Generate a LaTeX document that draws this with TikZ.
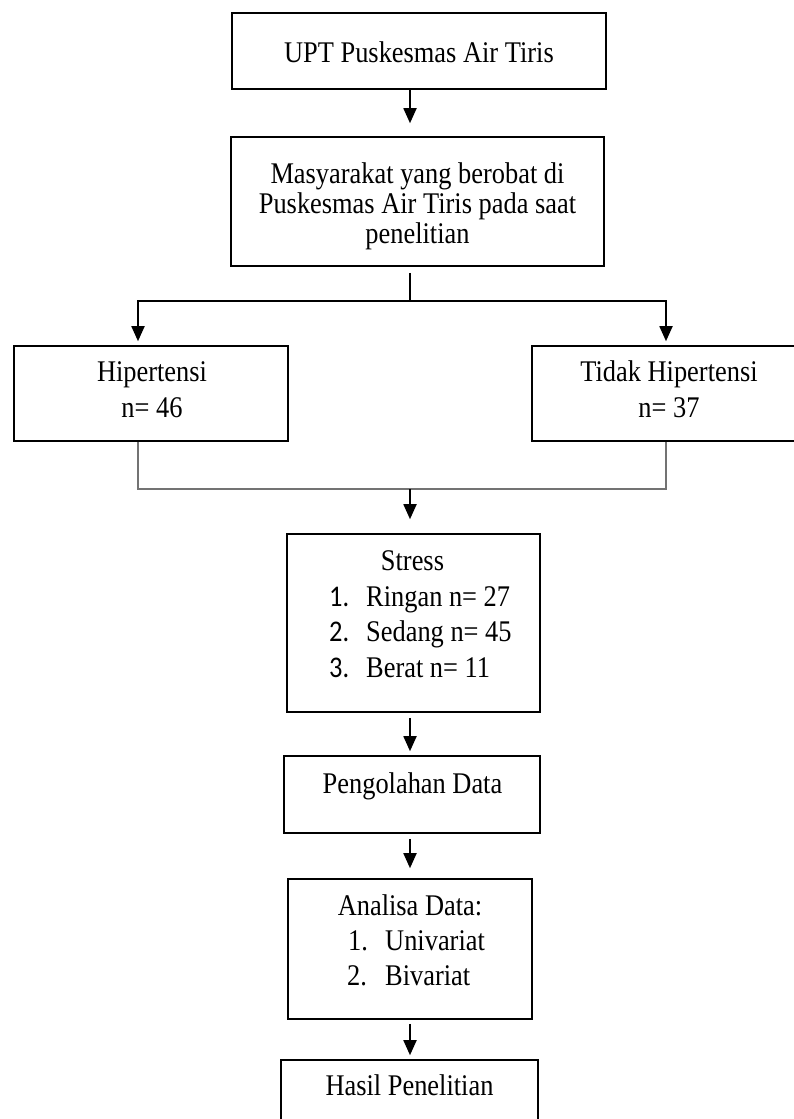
\documentclass[tikz,border=0pt]{standalone}
\usepackage{fontspec}
\setmainfont{Liberation Serif}[FakeStretch=0.88]
\newfontfamily\numfont{Carlito}[FakeStretch=0.88]
\usetikzlibrary{arrows.meta}
\begin{document}
\begin{tikzpicture}[x=1pt,y=-1pt,
  every node/.style={font=\fontsize{30}{36}\selectfont},
  box/.style={draw, line width=1.6pt, inner sep=0pt, rectangle},
  txt/.style={inner sep=0pt, anchor=base},
  ltxt/.style={inner sep=0pt, anchor=base west},
  conn/.style={line width=1.8pt},
  arr/.style={conn, -{Triangle[length=15pt,width=13pt]}},
  grayline/.style={line width=1.2pt, draw=black!55}]
\path[fill=white] (0,0) rectangle (793,1119);
\useasboundingbox (0,0) rectangle (793,1119);

% boxes
\node[box, line width=2.6pt, minimum width=374pt, minimum height=76pt] (upt) at (419,51) {};
\node[box, minimum width=373pt, minimum height=129pt] (mas) at (417.5,201.5) {};
\node[box, minimum width=274pt, minimum height=95pt] (hyp) at (151,393.5) {};
\node[box, minimum width=274pt, minimum height=95pt] (nhyp) at (669,393.5) {};
\node[box, minimum width=253pt, minimum height=178pt] (str) at (413.5,623) {};
\node[box, minimum width=256pt, minimum height=77pt] (peng) at (412,794.5) {};
\node[box, minimum width=244pt, minimum height=140pt] (ana) at (410,949) {};
\node[box, minimum width=257pt, minimum height=100pt] (has) at (409.5,1110) {};

% texts
\node[txt] (tupt) at (419,62) {UPT Puskesmas Air Tiris};
\node[txt] (tmas1) at (417.5,183) {Masyarakat yang berobat di};
\node[txt] (tmas2) at (417.5,213) {Puskesmas Air Tiris pada saat};
\node[txt] (tmas3) at (417.5,243) {penelitian};
\node[txt] (thyp1) at (152,381) {Hipertensi};
\node[txt] (thyp2) at (152,417) {n= 46};
\node[txt] (tnhyp1) at (669,381) {Tidak Hipertensi};
\node[txt] (tnhyp2) at (669,417) {n= 37};
\node[txt] (tstr) at (412.5,570) {Stress};
\node[ltxt] (n1) at (329,606) {\numfont 1.};
\node[ltxt] (s1) at (366,606) {Ringan n= 27};
\node[ltxt] (n2) at (329,641) {\numfont 2.};
\node[ltxt] (s2) at (366,641) {Sedang n= 45};
\node[ltxt] (n3) at (329,677) {\numfont 3.};
\node[ltxt] (s3) at (366,677) {Berat n= 11};
\node[txt] (tpeng) at (412.5,793) {Pengolahan Data};
\node[txt] (tana) at (410,915) {Analisa Data:};
\node[ltxt] (a1n) at (348,950) {1.};
\node[ltxt] (a1) at (385,950) {Univariat};
\node[ltxt] (a2n) at (347,985) {2.};
\node[ltxt] (a2) at (385,985) {Bivariat};
\node[txt] (thas) at (409.5,1095) {Hasil Penelitian};

% connectors
\coordinate (ax) at (410,0);
\coordinate (la) at (138,0);
\coordinate (ra) at (666,0);
\coordinate (split) at (410,301);
\coordinate (merge) at (410,489);
\draw[arr, shorten >=13pt] (upt.south -| ax) -- (mas.north -| ax);
\draw[conn, shorten <=6pt] (mas.south -| ax) -- (split);
\draw[arr, shorten >=4pt] (split) -| (hyp.north -| la);
\draw[arr, shorten >=4pt] (split) -| (nhyp.north -| ra);
\draw[grayline] (hyp.south -| la) |- (merge) -| (nhyp.south -| ra);
\draw[arr, shorten >=14pt] (merge) -- (str.north -| ax);
\draw[arr, shorten <=5pt, shorten >=4pt] (str.south -| ax) -- (peng.north -| ax);
\draw[arr, shorten <=5pt, shorten >=10pt] (peng.south -| ax) -- (ana.north -| ax);
\draw[arr, shorten <=4pt, shorten >=4pt] (ana.south -| ax) -- (has.north -| ax);
\end{tikzpicture}
\end{document}
